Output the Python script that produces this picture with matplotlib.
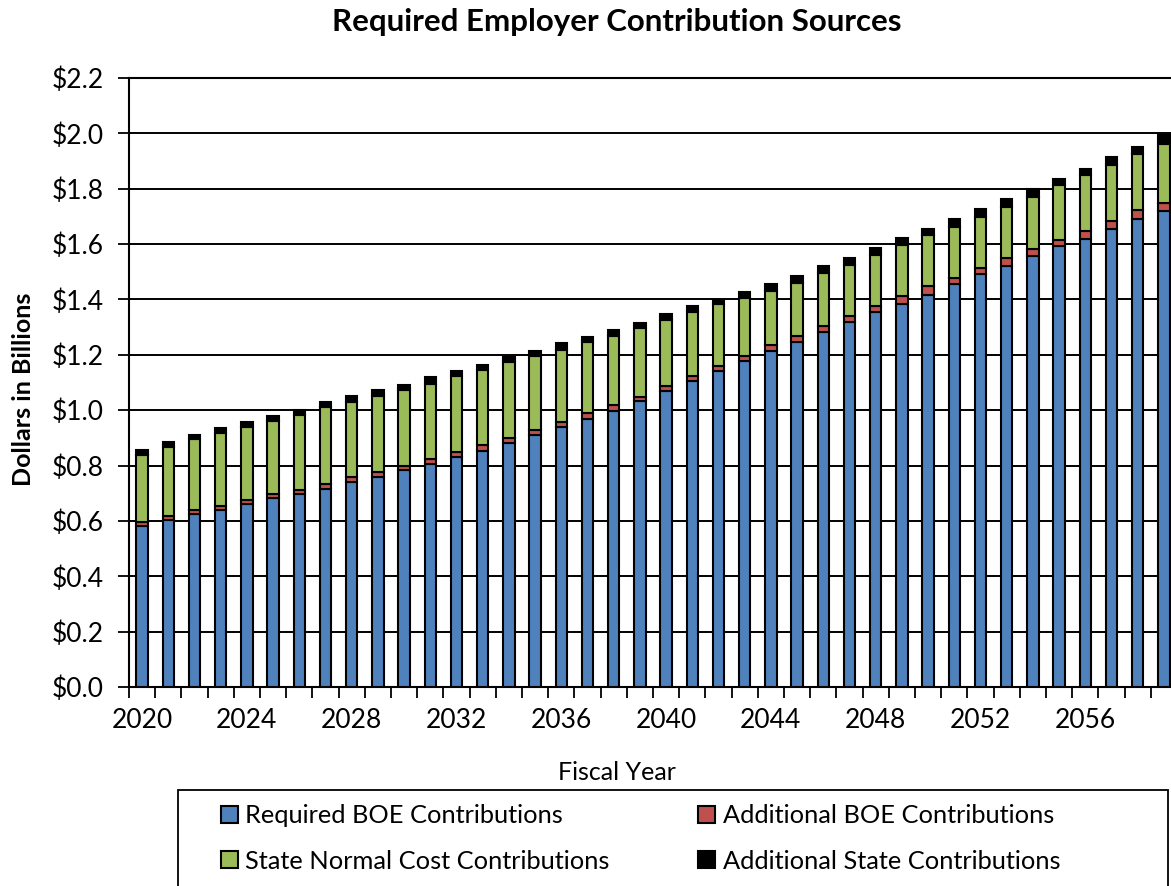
import numpy as np
import matplotlib.pyplot as plt
from matplotlib.patches import Rectangle

# data (billions of dollars)
years = list(range(2020, 2060))
required_boe = [0.581, 0.602, 0.624, 0.638, 0.660, 0.681, 0.696, 0.717, 0.739, 0.760,
                0.784, 0.805, 0.831, 0.853, 0.881, 0.910, 0.939, 0.969, 0.996, 1.032,
                1.068, 1.104, 1.143, 1.176, 1.212, 1.248, 1.284, 1.320, 1.356, 1.384,
                1.417, 1.455, 1.491, 1.520, 1.556, 1.592, 1.620, 1.656, 1.692, 1.719]
additional_boe = [0.015, 0.017, 0.017, 0.017, 0.017, 0.017, 0.017, 0.017, 0.019, 0.018,
                  0.014, 0.020, 0.017, 0.022, 0.018, 0.017, 0.018, 0.022, 0.022, 0.017,
                  0.019, 0.021, 0.017, 0.020, 0.022, 0.021, 0.021, 0.021, 0.021, 0.030,
                  0.030, 0.022, 0.022, 0.029, 0.028, 0.022, 0.029, 0.029, 0.030, 0.031]
state_normal = [0.242, 0.247, 0.254, 0.264, 0.263, 0.262, 0.269, 0.276, 0.273, 0.275,
                0.275, 0.270, 0.275, 0.271, 0.275, 0.269, 0.260, 0.255, 0.250, 0.247,
                0.238, 0.228, 0.222, 0.208, 0.198, 0.192, 0.192, 0.185, 0.185, 0.184,
                0.185, 0.184, 0.184, 0.184, 0.185, 0.198, 0.199, 0.199, 0.203, 0.212]
additional_state = [0.018, 0.020, 0.014, 0.018, 0.018, 0.018, 0.020, 0.019, 0.020, 0.019,
                    0.019, 0.024, 0.020, 0.018, 0.019, 0.018, 0.024, 0.019, 0.023, 0.019,
                    0.024, 0.025, 0.017, 0.024, 0.024, 0.024, 0.024, 0.024, 0.024, 0.024,
                    0.024, 0.030, 0.030, 0.030, 0.029, 0.024, 0.024, 0.030, 0.026, 0.032]
series_names = ['Required BOE Contributions', 'Additional BOE Contributions',
                'State Normal Cost Contributions', 'Additional State Contributions']
colors = ['#4F81BD', '#C0504D', '#9BBB59', '#000000']

plt.rcParams['font.family'] = ['Lato', 'DejaVu Sans']

W, H = 1171, 886
fig = plt.figure(figsize=(W / 100, H / 100), dpi=100)
ax = fig.add_axes([129/W, 1 - 687/H, 1048/W, 609/H])

x = np.arange(len(years))
bottom = np.zeros(len(years))
for vals, name, c in zip([required_boe, additional_boe, state_normal, additional_state],
                         series_names, colors):
    vals = np.array(vals)
    ax.bar(x, vals, width=0.43, bottom=bottom, color=c, edgecolor='black',
           linewidth=1.5, label=name, zorder=3)
    bottom += vals

# axes
ax.set_ylim(0, 2.2)
ax.set_xlim(-0.5, len(years) - 0.5)
yt = np.arange(0, 2.21, 0.2)
ax.set_yticks(yt)
ax.set_yticklabels(['${:.1f}'.format(v) for v in yt], fontsize=19)
ax.yaxis.grid(True, color='black', linewidth=1.4, zorder=0)
ax.tick_params(axis='y', length=8, width=1.3, direction='out', pad=10)

ax.set_xticks(x[::4])
ax.set_xticklabels([str(y) for y in years[::4]], fontsize=19)
ax.set_xticks(np.arange(-0.5, len(years), 1), minor=True)
ax.tick_params(axis='x', which='major', length=0, pad=15)
ax.tick_params(axis='x', which='minor', length=8, width=1.3, direction='out')
for s in ax.spines.values():
    s.set_linewidth(1.5)

fig.text(617/W, 1 - 22/H, 'Required Employer Contribution Sources',
         fontsize=22.5, fontweight='bold', ha='center', va='center')
fig.text(24/W, 1 - 389/H, 'Dollars in Billions', fontsize=18, fontweight='bold',
         rotation=90, ha='center', va='center')
fig.text(617/W, 1 - 773/H, 'Fiscal Year', fontsize=18, ha='center', va='center')

# legend (frame drawn separately, as in the reference it runs off the bottom)
fig.patches.append(Rectangle((178/W, -0.05), 990/W, 1 - 790/H + 0.05,
                             transform=fig.transFigure, facecolor='white',
                             edgecolor='black', linewidth=1.3))
handles, labels = ax.get_legend_handles_labels()
order = [0, 2, 1, 3]
leg = fig.legend([handles[i] for i in order], [labels[i] for i in order],
                 loc='upper left', bbox_to_anchor=(221/W, 1 - 804/H),
                 ncol=2, fontsize=18.3, frameon=False,
                 handlelength=0.65, handleheight=0.65, handletextpad=0.3,
                 labelspacing=0.9, columnspacing=3.5, borderpad=0, borderaxespad=0)

plt.savefig('out.png', dpi=100)
